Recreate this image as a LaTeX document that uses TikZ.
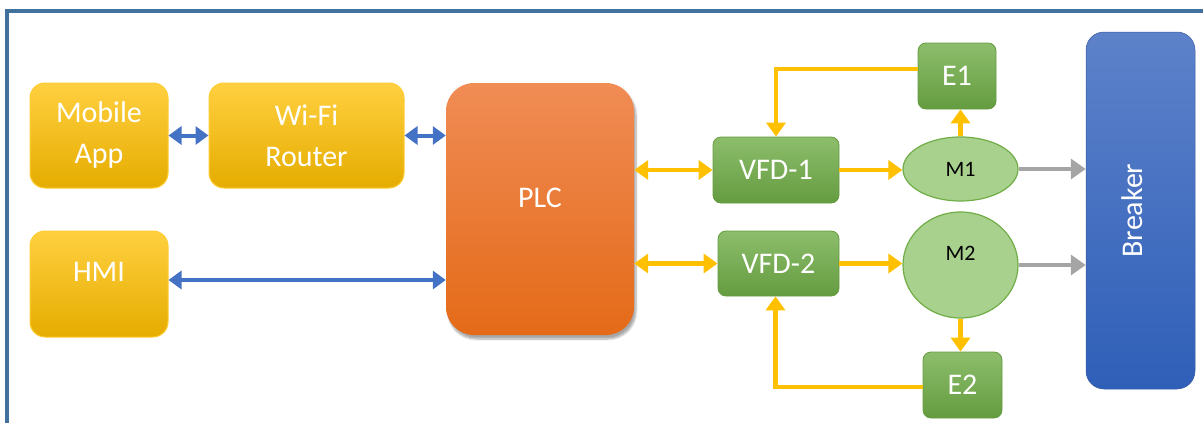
\documentclass[tikz,border=0pt]{standalone}
\usepackage{fontspec}
\setmainfont{Carlito}
\usetikzlibrary{arrows.meta,positioning,shapes.geometric,shadows.blur}
\definecolor{plcframe}{HTML}{41719C}
\definecolor{ctlblue}{HTML}{4472C4}
\definecolor{ctlgold}{HTML}{FFC000}
\definecolor{ctlgrey}{HTML}{A5A5A5}
\definecolor{devgreen}{HTML}{70AD47}
\definecolor{motgreen}{HTML}{A9D18E}
\definecolor{plctop}{RGB}{240,140,85}
\definecolor{plcbot}{RGB}{228,106,24}
\definecolor{brktop}{RGB}{93,130,202}
\definecolor{brkbot}{RGB}{47,95,184}

\begin{document}
\begin{tikzpicture}[
x=1pt,y=-1pt,
every node/.style={font=\fontsize{30}{41}\selectfont,text=white,align=center,inner sep=0pt},
ybox/.style={draw=ctlgold!80!white,line width=1pt,rounded corners=15pt,
top color=ctlgold!75!white,middle color=ctlgold,bottom color=ctlgold!90!black},
gbox/.style={draw=devgreen!90!black,line width=0.8pt,rounded corners=8pt,
top color=devgreen!80!white,bottom color=devgreen!90!black},
motor/.style={ellipse,draw=devgreen,line width=1.2pt,fill=motgreen,text=black,
font=\fontsize{22}{26}\selectfont},
lnblue/.style={line width=4pt,draw=ctlblue,{Triangle[length=13pt,width=18pt]}-{Triangle[length=13pt,width=18pt]}},
lngold/.style={line width=4.5pt,draw=ctlgold,-{Triangle[length=14pt,width=19pt]}},
lngold2/.style={lngold,{Triangle[length=14pt,width=19pt]}-{Triangle[length=14pt,width=19pt]}},
lngrey/.style={line width=4.5pt,draw=ctlgrey,-{Triangle[length=15pt,width=20pt]}}
]
\useasboundingbox (0,0) rectangle (1203,423);
\clip (0,0) rectangle (1203,423);
\draw[plcframe,line width=4pt] (7,11) rectangle (1220,440);

% left side
\node[ybox,minimum width=138pt,minimum height=105pt] (mob) at (99,135.5) {Mobile\\App};
\node[ybox,minimum width=195pt,minimum height=105pt] (wifi) at (306.5,135.5) {Wi-Fi\\Router};
\node[ybox,minimum width=138pt,minimum height=106pt,text depth=24pt] (hmi) at (99,284) {HMI};

\node[rounded corners=28pt,minimum width=188pt,minimum height=252pt,text depth=22pt,
top color=plctop,bottom color=plcbot,
blur shadow={shadow xshift=2pt,shadow yshift=-4pt,shadow blur steps=8,shadow opacity=35}] (plc) at (540,209) {PLC};

% drives, encoders, motors
\node[gbox,minimum width=126pt,minimum height=66pt] (vfd1) at (776,170) {VFD-1};
\node[gbox,minimum width=121pt,minimum height=65pt] (vfd2) at (778.5,263.5) {VFD-2};
\node[gbox,minimum width=78pt,minimum height=66pt] (e1) at (957,76) {E1};
\node[gbox,minimum width=79pt,minimum height=66pt] (e2) at (962.5,385) {E2};
\node[motor,minimum width=115pt,minimum height=64pt] (m1) at (960.5,169) {M1};
\node[motor,minimum width=115pt,minimum height=106pt,text depth=24pt] (m2) at (960.5,265) {M2};

\node[rounded corners=18pt,rotate=90,minimum width=357pt,minimum height=109pt,text depth=16pt,
draw=ctlblue!80!black,line width=0.5pt,
top color=brktop,bottom color=brkbot] (brk) at (1140.5,210.5) {Breaker};

% links
\draw[lnblue] (mob.east) -- (wifi.west);
\draw[lnblue] (wifi.east) -- (wifi.east -| plc.west);
\draw[lnblue] ([yshift=4pt]hmi.east) -- ([yshift=4pt]hmi.east -| plc.west);
\draw[lngold2] (vfd1.west -| plc.east) -- (vfd1.west);
\draw[lngold2] (vfd2.west -| plc.east) -- (vfd2.west);
\draw[lngold] (vfd1.east) -- (vfd1.east -| m1.west);
\draw[lngold] (vfd2.east) -- (vfd2.east -| m2.west);
\draw[lngold] (m1.north) -- (m1.north |- e1.south);
\draw[lngold] (m2.south) -- (m2.south |- e2.north);
\draw[lngold] ([yshift=7pt]e1.west) -| (vfd1.north);
\draw[lngold] ([yshift=-2pt]e2.west) -| ([xshift=-3pt]vfd2.south);
\draw[lngrey] (m1.east) -- (m1.east -| brk.north);
\draw[lngrey] (m2.east) -- (m2.east -| brk.north);
\end{tikzpicture}
\end{document}
